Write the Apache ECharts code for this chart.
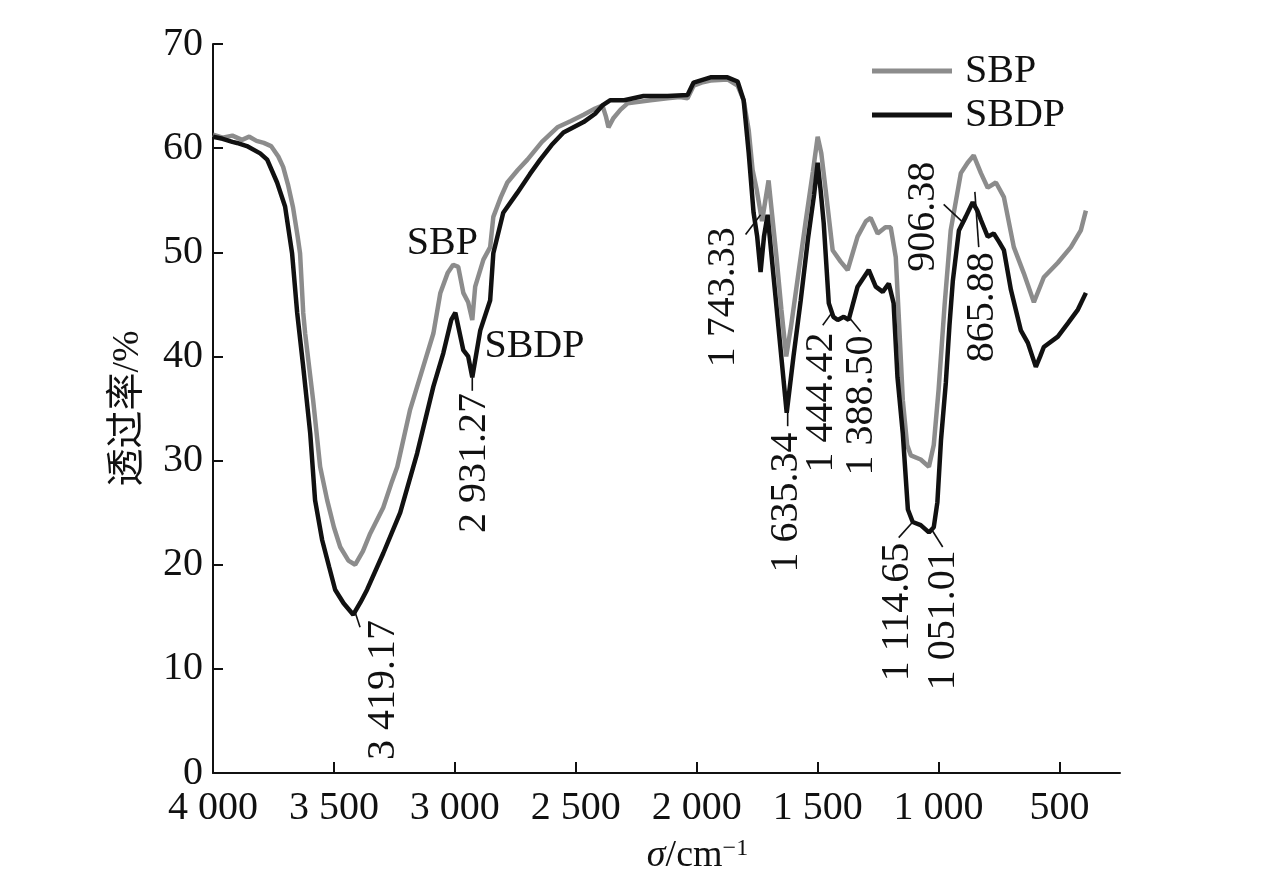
<!DOCTYPE html>
<html>
<head>
<meta charset="utf-8">
<script src="https://cdn.jsdelivr.net/npm/echarts@6/dist/echarts.min.js"></script>
<style>
  html, body { margin: 0; padding: 0; background: #fff; }
  #ftir-chart { width: 1276px; height: 880px; }
</style>
</head>
<body>
<div id="ftir-chart"></div>
<script>
// 波数 / 透过率
var sbpWave = [4000, 3960, 3920, 3880, 3850, 3820, 3790, 3760, 3730, 3710, 3690, 3669, 3650, 3640, 3627,
  3619, 3600, 3586, 3557, 3528, 3500, 3474, 3440, 3412, 3380, 3350, 3296, 3260, 3238, 3185, 3131, 3089,
  3060, 3030, 3007, 2986, 2965, 2945, 2928, 2916, 2882, 2854, 2841, 2810, 2783, 2740, 2700, 2640, 2576,
  2520, 2468, 2420, 2390, 2375, 2365, 2344, 2315, 2286, 2191, 2121, 2070, 2038, 2013, 1980, 1943, 1873,
  1831, 1806, 1785, 1769, 1752, 1730, 1703, 1670, 1650, 1630, 1610, 1580, 1550, 1520, 1500, 1485, 1467,
  1438, 1405, 1376, 1335, 1300, 1281, 1252, 1220, 1198, 1177, 1165, 1148, 1130, 1115, 1074, 1040, 1020,
  1000, 975, 950, 908, 880, 855, 825, 797, 763, 730, 689, 648, 606, 565, 507, 453, 412, 391];
var sbpTrans = [61.3, 61.0, 61.2, 60.8, 61.1, 60.7, 60.5, 60.2, 59.2, 58.2, 56.5, 54.3, 51.5, 49.9, 44.2,
  42.2, 38.5, 35.8, 29.4, 26.2, 23.6, 21.7, 20.4, 20.0, 21.3, 23.0, 25.5, 28.0, 29.4, 34.9, 39.0, 42.2,
  46.1, 48.0, 48.8, 48.6, 46.1, 45.2, 43.5, 46.7, 49.3, 50.5, 53.4, 55.3, 56.7, 57.9, 58.9, 60.6, 62.0,
  62.6, 63.2, 63.8, 64.1, 63.0, 62.0, 62.9, 63.7, 64.3, 64.6, 64.8, 64.9, 64.8, 66.0, 66.3, 66.5, 66.6,
  66.0, 64.6, 61.7, 57.9, 56.0, 53.0, 56.9, 49.5, 44.5, 40.0, 42.9, 47.9, 52.9, 57.7, 61.1, 59.5, 56.0,
  50.2, 49.1, 48.3, 51.5, 53.0, 53.3, 51.8, 52.4, 52.4, 49.5, 44.0, 35.8, 31.5, 30.5, 30.1, 29.4, 31.5,
  36.8, 45.0, 52.1, 57.6, 58.6, 59.3, 57.6, 56.2, 56.7, 55.3, 50.5, 48.0, 45.2, 47.6, 49.0, 50.5, 52.1, 54.0];

var sbdpWave = [4000, 3960, 3920, 3901, 3860, 3805, 3776, 3735, 3702, 3673, 3652, 3627, 3598, 3578, 3549,
  3520, 3495, 3460, 3420, 3390, 3363, 3296, 3226, 3156, 3089, 3048, 3015, 2998, 2965, 2945, 2928, 2895,
  2854, 2841, 2800, 2742, 2690, 2647, 2600, 2551, 2468, 2420, 2390, 2357, 2300, 2220, 2121, 2038, 2013,
  1943, 1873, 1831, 1806, 1785, 1765, 1750, 1736, 1722, 1707, 1680, 1655, 1628, 1600, 1570, 1540, 1515,
  1500, 1488, 1475, 1454, 1435, 1417, 1392, 1372, 1335, 1289, 1260, 1231, 1206, 1186, 1170, 1148, 1127,
  1107, 1074, 1040, 1020, 1005, 990, 970, 955, 941, 916, 888, 859, 840, 825, 797, 772, 750, 730, 701,
  660, 631, 598, 580, 565, 507, 465, 424, 391];
var sbdpTrans = [61.1, 60.9, 60.6, 60.5, 60.2, 59.5, 58.9, 56.7, 54.4, 49.9, 44.2, 39.0, 32.6, 26.2, 22.4,
  19.8, 17.6, 16.3, 15.2, 16.4, 17.6, 21.1, 25.0, 30.7, 37.1, 40.3, 43.5, 44.2, 40.6, 40.0, 38.0, 42.5,
  45.4, 49.9, 53.8, 55.7, 57.5, 58.9, 60.3, 61.5, 62.5, 63.3, 64.1, 64.6, 64.6, 65.0, 65.0, 65.1, 66.3,
  66.8, 66.8, 66.4, 64.6, 59.5, 53.8, 51.5, 48.1, 51.5, 53.6, 47.1, 41.1, 34.6, 40.0, 45.4, 51.3, 55.5,
  58.6, 56.0, 52.8, 45.1, 43.8, 43.5, 43.8, 43.5, 46.7, 48.3, 46.7, 46.2, 47.0, 45.1, 38.0, 32.6, 25.3,
  24.1, 23.8, 23.1, 23.6, 26.0, 32.0, 37.5, 43.0, 47.3, 52.1, 53.4, 54.8, 54.0, 53.1, 51.5, 51.8, 51.0, 50.2, 46.4,
  42.5, 41.3, 39.0, 40.0, 40.9, 41.9, 43.2, 44.5, 46.1];

var xTicks = [4000, 3500, 3000, 2500, 2000, 1500, 1000, 500];

// 峰值标注: 引线起点、终点、文字顶端 (波数, 透过率)
var peakLabels = ['3 419.17', '2 931.27', '1 743.33', '1 635.34', '1 444.42', '1 388.50',
  '1 114.65', '1 051.01', '906.38', '865.88'];
var leaderFrom = [[3412, 15.4], [2928, 38.0], [1736, 53.6], [1624, 34.8], [1438, 44.3], [1372, 43.8],
  [1107, 24.1], [1032, 23.5], [896, 52.8], [850, 55.8]];
var leaderTo = [[3392, 14.0], [2928, 36.7], [1798, 51.7], [1624, 33.3], [1479, 43.0], [1322, 42.4],
  [1165, 22.6], [983, 21.7], [979, 54.6], [834, 50.5]];
var labelTop = [[3296, 14.7], [2920, 36.5], [1889, 52.4], [1628, 32.7], [1483, 42.3], [1318, 42.0],
  [1169, 22.1], [979, 21.4], [1061, 58.7], [817, 50.0]];

var curveNames = ['SBP', 'SBDP'];
var curveColors = ['#8c8c8c', '#111'];
var curveNamePos = [[3052, 50.8], [2671, 41.0]];

var serif = '"Liberation Serif", "Times New Roman", serif';

function zip(a, b) {
  return a.map(function (v, i) { return [v, b[i]]; });
}

function fmtWave(v) {
  if (v < 1000) return String(v);
  var rest = String(v % 1000);
  while (rest.length < 3) rest = '0' + rest;
  return Math.floor(v / 1000) + ' ' + rest;
}

var annData = peakLabels.map(function (t, i) {
  return [leaderFrom[i][0], leaderFrom[i][1], leaderTo[i][0], leaderTo[i][1], labelTop[i][0], labelTop[i][1]];
});

var myChart = echarts.init(document.getElementById('ftir-chart'));

var option = {
  backgroundColor: '#fff',
  animation: false,
  grid: { left: 213, right: 156, top: 44, bottom: 107 },
  legend: {
    orient: 'vertical',
    left: 867,
    top: 46,
    itemWidth: 80,
    itemHeight: 5,
    itemGap: 4,
    data: curveNames.map(function (n, i) {
      return { name: n, icon: 'rect', itemStyle: { color: curveColors[i] } };
    }),
    textStyle: { fontFamily: serif, fontSize: 40, lineHeight: 40, color: '#111', padding: [0, 0, 0, 8] }
  },
  xAxis: {
    type: 'value',
    inverse: true,
    min: 250,
    max: 4000,
    name: '{i|σ}/cm{s|−1}',
    nameLocation: 'middle',
    nameGap: 64,
    nameTextStyle: {
      fontFamily: serif, fontSize: 38, color: '#111', padding: [0, 0, 0, 62],
      rich: {
        i: { fontFamily: serif, fontSize: 38, fontStyle: 'italic', color: '#111' },
        s: { fontFamily: serif, fontSize: 24, color: '#111', verticalAlign: 'top' }
      }
    },
    axisLine: { lineStyle: { color: '#111', width: 2 } },
    axisTick: { inside: true, length: 11, customValues: xTicks, lineStyle: { color: '#111', width: 2 } },
    axisLabel: {
      customValues: xTicks,
      margin: 15,
      fontFamily: serif, fontSize: 40, color: '#111',
      formatter: fmtWave
    },
    splitLine: { show: false }
  },
  yAxis: {
    type: 'value',
    min: 0,
    max: 70,
    interval: 10,
    name: '透过率/%',
    nameLocation: 'middle',
    nameGap: 66,
    nameTextStyle: { fontFamily: '"Liberation Serif", "Noto Sans CJK SC", serif', fontSize: 38, color: '#111' },
    axisLine: { show: true, lineStyle: { color: '#111', width: 2 } },
    axisTick: { show: true, inside: true, length: 10, lineStyle: { color: '#111', width: 2 } },
    axisLabel: { margin: 10, fontFamily: serif, fontSize: 40, color: '#111' },
    splitLine: { show: false }
  },
  series: [
    {
      name: 'SBP',
      type: 'line',
      data: zip(sbpWave, sbpTrans),
      symbol: 'none',
      lineStyle: { color: curveColors[0], width: 4.5 },
      itemStyle: { color: curveColors[0] },
      z: 2
    },
    {
      name: 'SBDP',
      type: 'line',
      data: zip(sbdpWave, sbdpTrans),
      symbol: 'none',
      lineStyle: { color: curveColors[1], width: 4.5 },
      itemStyle: { color: curveColors[1] },
      z: 3
    },
    {
      // 曲线名称 + 峰值标注
      type: 'custom',
      data: annData,
      silent: true,
      clip: false,
      encode: { x: [0, 2, 4], y: [1, 3, 5] },
      renderItem: function (params, api) {
        var p1 = api.coord([api.value(0), api.value(1)]);
        var p2 = api.coord([api.value(2), api.value(3)]);
        var pt = api.coord([api.value(4), api.value(5)]);
        var children = [
          {
            type: 'line',
            shape: { x1: p1[0], y1: p1[1], x2: p2[0], y2: p2[1] },
            style: { stroke: '#111', lineWidth: 1.6 }
          },
          {
            type: 'text',
            x: pt[0],
            y: pt[1],
            rotation: Math.PI / 2,
            style: {
              text: peakLabels[params.dataIndex],
              fontFamily: serif, fontSize: 40, fill: '#111',
              align: 'right', verticalAlign: 'middle',
              textAlign: 'right', textVerticalAlign: 'middle'
            }
          }
        ];
        if (params.dataIndex === 0) {
          curveNames.forEach(function (n, i) {
            var c = api.coord(curveNamePos[i]);
            children.push({
              type: 'text',
              x: c[0],
              y: c[1],
              style: {
                text: n, fontFamily: serif, fontSize: 40, fill: '#111',
                align: 'center', verticalAlign: 'middle',
                textAlign: 'center', textVerticalAlign: 'middle'
              }
            });
          });
        }
        return { type: 'group', children: children };
      },
      z: 6
    }
  ]
};

myChart.setOption(option);
</script>
</body>
</html>
